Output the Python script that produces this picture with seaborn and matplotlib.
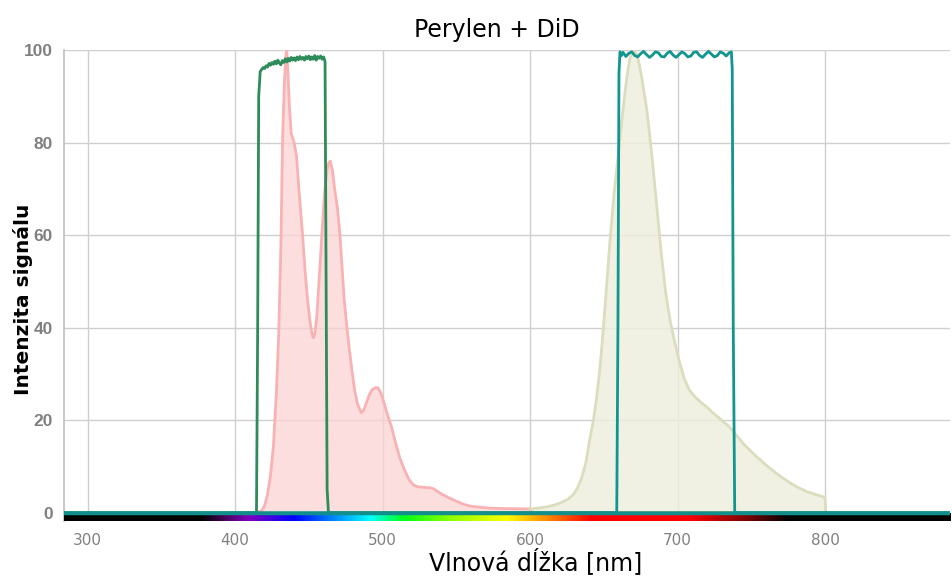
import numpy as np
import pandas as pd
import matplotlib
matplotlib.use("Agg")
import matplotlib.pyplot as plt
from matplotlib.colors import LinearSegmentedColormap
import seaborn as sns

# Perylene emission spectrum
perylen_nm = [414, 418, 420, 422, 424, 426, 428, 429.5, 431, 432.2,
              433.3, 434.3, 435, 435.7, 436.8, 438, 440, 441.7, 443, 444.5,
              446, 447.5, 449, 450.5, 452, 453, 454, 455.3, 456.5, 457.7,
              458.8, 460, 461.2, 462.3, 463.4, 464.5, 466, 467.5, 469.3, 471,
              472.5, 474, 475.8, 477.6, 479.3, 481, 483, 485.5, 487.3, 489,
              491, 493, 495, 496.8, 498.7, 501, 503.5, 506, 508.7, 511.5,
              514.5, 518, 521, 523.7, 527, 530, 532, 535, 538.6, 542,
              545, 548.5, 552, 556, 560, 565, 572, 580, 590, 600, 601]
perylen_val = [0, 0.4, 1.5, 4, 8, 14.5, 26, 38, 57, 80.6,
               92, 98.5, 100, 96, 88, 82, 80, 77, 71, 65,
               59, 52, 46.5, 42, 38.8, 37.8, 38.5, 42, 48, 54,
               60, 66, 71, 74, 75.5, 76, 74, 70, 66, 60.5,
               53, 46, 40, 35, 30.5, 26.6, 23.5, 21.6, 22.2, 23.7,
               25.5, 26.6, 27, 27, 26, 23.7, 21, 18.6, 15.2, 12,
               9.5, 7.1, 6, 5.6, 5.5, 5.4, 5.4, 5.1, 4.3, 3.7,
               3.2, 2.7, 2.2, 1.7, 1.4, 1.2, 1.0, 0.9, 0.85, 0.8, 0]

# DiD emission spectrum
did_nm = [600, 606, 612, 618, 622, 626, 629, 632, 635, 638,
          640, 643, 645, 647, 649, 651, 654, 657, 659, 661,
          663, 665, 666.5, 668, 669.5, 671, 672.5, 674, 675.5, 677,
          679, 681, 683, 686, 689, 692, 695, 698, 701, 704.5,
          708, 712, 716, 720, 725, 730, 735, 740, 745, 750,
          754, 760, 765, 770, 776, 782, 788, 795, 800, 800.5]
did_val = [0.8, 1.0, 1.3, 1.8, 2.3, 3.0, 3.8, 5.2, 7.5, 11,
           15, 20, 24.5, 30, 37, 45, 58, 69, 75, 81,
           87, 92.5, 96, 98.5, 99.6, 99.8, 99, 97, 94.5, 91.5,
           87.5, 82, 76, 66, 56, 47.5, 41.5, 37, 33, 29,
           26.5, 25, 23.8, 22.8, 21.3, 20, 18.6, 16.7, 14.8, 13.2,
           12, 10.3, 9, 7.8, 6.5, 5.4, 4.5, 3.8, 3.3, 0]

# Filter transmission: Perylene channel
filter1_nm = [284, 414.5, 415.3, 416, 417, 418, 419, 420, 421, 422, 423, 424, 425, 426,
              427, 428, 429, 430, 431, 432, 433, 434, 435, 436, 437, 438, 439, 440,
              441, 442, 443, 444, 445, 446, 447, 448, 449, 450, 451, 452, 453, 454,
              455, 456, 457, 458, 459, 460, 461, 461.7, 462.4, 463.3, 885]
filter1_val = [0, 0, 40, 90, 95.3, 95.8, 96.2, 96.0, 96.6, 96.3, 97.1, 96.7, 97.3, 96.9,
               97.6, 97.0, 97.8, 97.2, 96.8, 97.7, 97.3, 98.1, 97.4, 98.2, 97.6, 98.4, 97.8, 98.3,
               97.7, 98.5, 97.9, 98.6, 98.0, 98.4, 97.8, 98.6, 98.1, 98.7, 97.9, 98.5, 98.0, 98.8,
               97.8, 98.6, 98.2, 98.7, 98.0, 98.5, 97.5, 50, 5, 0, 0]

# Filter transmission: DiD channel
filter2_nm = [284, 658.8, 659.6, 660.3, 661, 662, 663, 665, 667, 669, 671, 673, 675, 677,
              679, 681, 683, 685, 687, 689, 691, 693, 695, 697, 699, 701, 703, 705, 707,
              709, 711, 713, 715, 717, 719, 721, 723, 725, 727, 729, 731, 733, 735, 736.5,
              737.1, 737.8, 738.8, 885]
filter2_val = [0, 0, 40, 95, 99.6, 98.8, 99.5, 98.6, 99.3, 99.6, 98.8, 98.5, 99.2, 99.7,
               99.0, 98.4, 98.9, 99.6, 99.4, 98.6, 98.5, 99.3, 99.7, 98.9, 98.4, 99.0, 99.6, 99.2, 98.5,
               98.7, 99.5, 99.6, 98.8, 98.4, 99.1, 99.7, 99.1, 98.5, 98.8, 99.6, 99.3, 98.7, 99.4, 99.6,
               96, 40, 0, 0]

# Visible spectrum colour stops for the wavelength strip
spectrum_nm = [284, 376, 390, 408, 439, 462, 491, 514, 545, 584, 611, 642, 708, 747, 776, 885]
spectrum_rgb = [(0, 0, 0), (0, 0, 0), (0.25, 0.0, 0.3), (0.5, 0.0, 0.75), (0.0, 0.0, 1.0),
                (0.0, 0.45, 1.0), (0.0, 1.0, 1.0), (0.0, 1.0, 0.1), (0.55, 1.0, 0.0),
                (1.0, 1.0, 0.0), (1.0, 0.55, 0.0), (1.0, 0.0, 0.0), (1.0, 0.0, 0.0),
                (0.5, 0.0, 0.0), (0.0, 0.0, 0.0), (0.0, 0.0, 0.0)]

xticks = [300, 400, 500, 600, 700, 800]
yticks = [0, 20, 40, 60, 80, 100]
x_min, x_max = 284, 885
y_min, y_max = -1.8, 100

sns.set_theme(style="white")
plt.rcParams['font.family'] = ['DejaVu Sans']

fig = plt.figure(figsize=(9.53, 5.76), dpi=100)
ax = fig.add_axes([0.0672, 0.0955, 0.93, 0.8177])

ax.set_xlim(x_min, x_max)
ax.set_ylim(y_min, y_max)
ax.set_xticks(xticks)
ax.set_yticks(yticks)
ax.grid(True, color="#cfcfcf", linewidth=1.0)
ax.set_axisbelow(True)

per = pd.DataFrame({"nm": perylen_nm, "val": perylen_val})
did = pd.DataFrame({"nm": did_nm, "val": did_val})
f1 = pd.DataFrame({"nm": filter1_nm, "val": filter1_val})
f2 = pd.DataFrame({"nm": filter2_nm, "val": filter2_val})

ax.fill_between(per["nm"], 0, per["val"], color="#fbd3d3", alpha=0.75, linewidth=0, zorder=2)
ax.fill_between(did["nm"], 0, did["val"], color="#eeeedd", alpha=0.8, linewidth=0, zorder=2)
sns.lineplot(data=per, x="nm", y="val", ax=ax, color="#f8b2b4", linewidth=2.0, sort=False, zorder=3)
sns.lineplot(data=did, x="nm", y="val", ax=ax, color="#dcdcbf", linewidth=2.0, sort=False, zorder=3)
sns.lineplot(data=f1, x="nm", y="val", ax=ax, color="#2e8b5a", linewidth=2.0, sort=False, zorder=4)
sns.lineplot(data=f2, x="nm", y="val", ax=ax, color="#11958f", linewidth=2.0, sort=False, zorder=5)
ax.axhline(0, color="#128f8c", linewidth=2.5, zorder=6)

# wavelength colour strip below the baseline
pos = [(w - x_min) / (x_max - x_min) for w in spectrum_nm]
cmap = LinearSegmentedColormap.from_list("visible", list(zip(pos, spectrum_rgb)))
grad = np.linspace(0, 1, 600).reshape(1, -1)
ax.imshow(grad, cmap=cmap, aspect="auto", extent=[x_min, x_max, y_min, -0.2],
          zorder=5, interpolation="bilinear")

for side in ["top", "right", "bottom"]:
    ax.spines[side].set_visible(False)
ax.spines["left"].set_color("#bdbdbd")
ax.spines["left"].set_linewidth(1.2)

ax.tick_params(axis="both", length=0)
ax.tick_params(axis="y", pad=8, labelsize=12.5, labelcolor="#808080")
ax.tick_params(axis="x", pad=9, labelsize=11, labelcolor="#808080")
for lab in ax.get_yticklabels():
    lab.set_fontweight("bold")
    lab.set_family(["Liberation Sans", "DejaVu Sans"])

ax.set_xlabel("Vlnová dĺžka [nm]", fontsize=17, color="black")
ax.xaxis.set_label_coords(0.532, -0.057)
ax.set_ylabel("Intenzita signálu", fontsize=14.5, color="black", fontweight="bold")
ax.yaxis.set_label_coords(-0.035, 0.47)
ax.set_title("Perylen + DiD", fontsize=17, color="black", x=0.488, pad=9)

fig.savefig("out.png", dpi=100)
